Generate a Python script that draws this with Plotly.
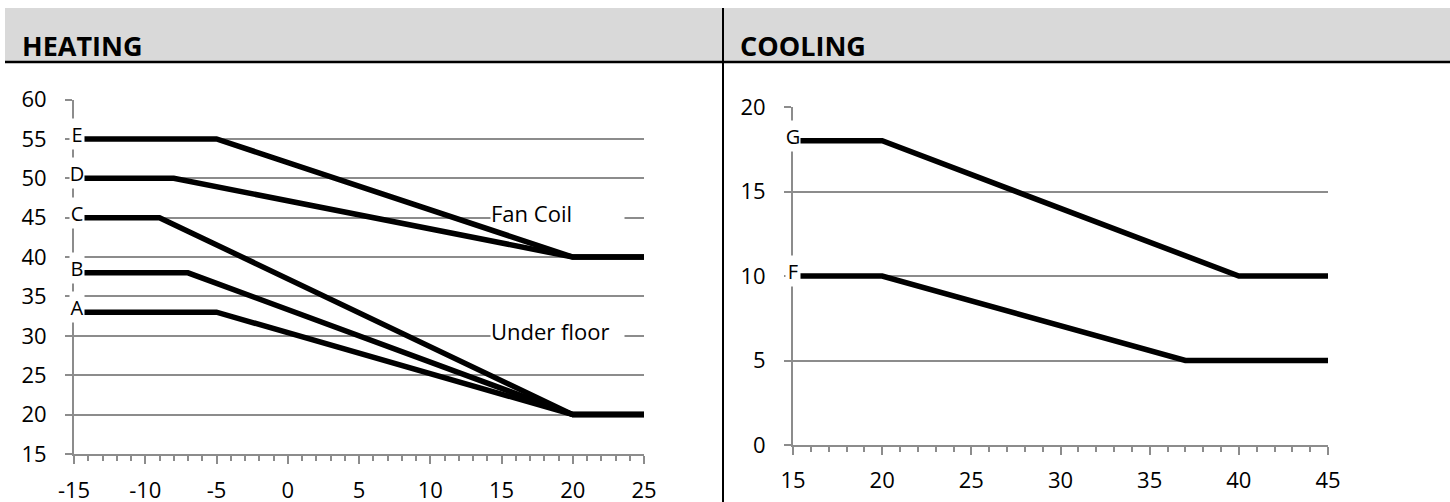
import plotly.graph_objects as go

# ---------------- data ----------------
heating_labels = ["A", "B", "C", "D", "E"]
heating_x = [
    [-15, -5, 20, 25],
    [-15, -7, 20, 25],
    [-15, -9, 20, 25],
    [-15, -8, 20, 25],
    [-15, -5, 20, 25],
]
heating_y = [
    [33, 33, 20, 20],
    [38, 38, 20, 20],
    [45, 45, 20, 20],
    [50, 50, 40, 40],
    [55, 55, 40, 40],
]
cooling_labels = ["F", "G"]
cooling_x = [
    [15, 20, 37, 45],
    [15, 20, 40, 45],
]
cooling_y = [
    [10, 10, 5, 5],
    [18, 18, 10, 10],
]
heating_xticks = [-15, -10, -5, 0, 5, 10, 15, 20, 25]
heating_xtick_text = ["-15", "-10", "-5", "0", "5", "10", "15", "20", "25"]
cooling_xticks = [15, 20, 25, 30, 35, 40, 45]
cooling_xtick_text = ["15", "20", "25", "30", "35", "40", "45"]
heating_group_labels = ["Fan Coil", "Under floor"]
heating_group_levels = [45, 30]
heating_title = "HEATING"
cooling_title = "COOLING"

W, H = 1450, 502
FONT = "Open Sans"
GRID = "#8c8c8c"

fig = go.Figure()

for name, xs, ys in zip(heating_labels, heating_x, heating_y):
    fig.add_trace(go.Scatter(x=xs, y=ys, mode="lines", name=name,
                             line=dict(color="black", width=5.5),
                             xaxis="x", yaxis="y", showlegend=False))
for name, xs, ys in zip(cooling_labels, cooling_x, cooling_y):
    fig.add_trace(go.Scatter(x=xs, y=ys, mode="lines", name=name,
                             line=dict(color="black", width=5.5),
                             xaxis="x2", yaxis="y2", showlegend=False))

annotations = []
# series letter labels
for name, xs, ys in zip(heating_labels, heating_x, heating_y):
    annotations.append(dict(x=xs[0], y=ys[0], xref="x", yref="y", text=name,
                            showarrow=False, xshift=2.5, yshift=5,
                            width=14, height=30, borderpad=0, bgcolor="white",
                            font=dict(family=FONT, size=20, color="black")))
for name, xs, ys in zip(cooling_labels, cooling_x, cooling_y):
    annotations.append(dict(x=xs[0], y=ys[0], xref="x2", yref="y2", text=name,
                            showarrow=False, xshift=0, yshift=5,
                            width=14, height=30, borderpad=0, bgcolor="white",
                            font=dict(family=FONT, size=20, color="black")))
# group labels
for txt, lvl in zip(heating_group_labels, heating_group_levels):
    annotations.append(dict(x=14.2, y=lvl, xref="x", yref="y", text=txt,
                            showarrow=False, xanchor="left", align="left",
                            yshift=5, width=133, height=20, borderpad=0,
                            bgcolor="white",
                            font=dict(family=FONT, size=22, color="black")))
# section titles
annotations.append(dict(x=20 / W, y=1 - 45 / H, xref="paper", yref="paper",
                        text="<b>%s</b>" % heating_title, showarrow=False,
                        xanchor="left", yanchor="middle",
                        font=dict(family=FONT, size=27, color="black")))
annotations.append(dict(x=738 / W, y=1 - 45 / H, xref="paper", yref="paper",
                        text="<b>%s</b>" % cooling_title, showarrow=False,
                        xanchor="left", yanchor="middle",
                        font=dict(family=FONT, size=27, color="black")))

shapes = [
    dict(type="rect", xref="paper", yref="paper", x0=5 / W, x1=1.0,
         y0=1 - 62 / H, y1=1 - 8 / H, fillcolor="#d9d9d9", line=dict(width=0),
         layer="below"),
    dict(type="line", xref="paper", yref="paper", x0=5 / W, x1=1.0,
         y0=1 - 62 / H, y1=1 - 62 / H, line=dict(color="black", width=2.5)),
    dict(type="line", xref="paper", yref="paper", x0=723 / W, x1=723 / W,
         y0=0, y1=1 - 8 / H, line=dict(color="black", width=2)),
]

tickfont = dict(family=FONT, size=22, color="black")

def xaxis_cfg(rng, domain, anchor, standoff, tv, tt):
    return dict(range=rng, domain=domain, anchor=anchor,
                tickmode="array", tickvals=tv, ticktext=tt,
                showgrid=False, zeroline=False, showline=True, linecolor=GRID,
                linewidth=2, ticks="outside", ticklen=8, tickwidth=2,
                tickcolor=GRID, tickfont=tickfont, ticklabelstandoff=standoff,
                minor=dict(dtick=1, tick0=rng[0], ticks="outside", ticklen=5,
                           tickwidth=1.5, tickcolor=GRID, showgrid=False),
                automargin=False, fixedrange=True)

def yaxis_cfg(rng, domain, anchor, dtick):
    return dict(range=rng, domain=domain, anchor=anchor, dtick=dtick,
                showgrid=True, gridcolor=GRID, gridwidth=2, zeroline=False,
                showline=True, linecolor=GRID, linewidth=2, ticks="outside",
                ticklen=7, tickwidth=2, tickcolor=GRID, tickfont=tickfont,
                ticklabelstandoff=14, automargin=False, fixedrange=True)

fig.update_layout(
    template="none",
    width=W, height=H, margin=dict(l=0, r=0, t=0, b=0, pad=0),
    paper_bgcolor="white", plot_bgcolor="white",
    xaxis=xaxis_cfg([-15, 25], [74 / W, 644 / W], "y", 8,
                    heating_xticks, heating_xtick_text),
    yaxis=yaxis_cfg([15, 60], [1 - 454 / H, 1 - 99.5 / H], "x", 5),
    xaxis2=xaxis_cfg([15, 45], [793 / W, 1328 / W], "y2", 7,
                     cooling_xticks, cooling_xtick_text),
    yaxis2=yaxis_cfg([0, 20], [1 - 445 / H, 1 - 107 / H], "x2", 5),
    annotations=annotations, shapes=shapes, showlegend=False,
)

fig.write_html(
    "out.html",
    config={"displayModeBar": False},
    post_script="document.body.style.margin='0';document.body.style.overflow='hidden';",
)
